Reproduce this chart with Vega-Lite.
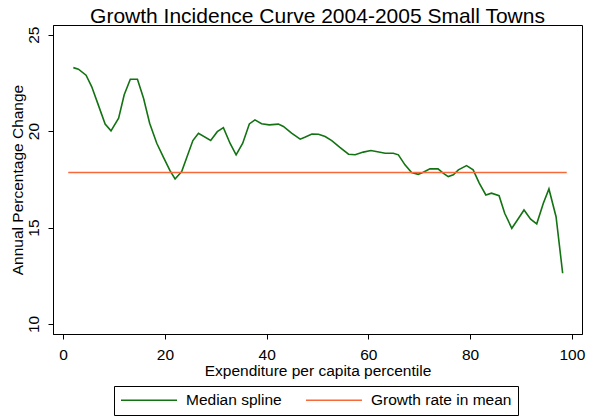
{
  "$schema": "https://vega.github.io/schema/vega-lite/v6.json",
  "width": 529,
  "height": 309,
  "autosize": "none",
  "padding": {"left": 53, "top": 25, "right": 7, "bottom": 82},
  "background": "white",
  "title": {
    "text": "Growth Incidence Curve 2004-2005 Small Towns",
    "font": "Liberation Sans",
    "fontSize": 21,
    "fontWeight": "normal",
    "color": "black",
    "anchor": "middle",
    "offset": -2
  },
  "config": {
    "view": {"stroke": "black", "strokeWidth": 1},
    "axis": {
      "grid": false,
      "domainColor": "black",
      "tickColor": "black",
      "labelColor": "black",
      "titleColor": "black",
      "labelFont": "Liberation Sans",
      "titleFont": "Liberation Sans",
      "labelFontSize": 15.5,
      "titleFontSize": 15.5,
      "titleFontWeight": "normal",
      "tickSize": 5
    }
  },
  "data": {
    "values": [
      {"p": 2, "v": 23.29, "series": "Median spline"},
      {"p": 3.0, "v": 23.21, "series": "Median spline"},
      {"p": 4.5, "v": 22.9, "series": "Median spline"},
      {"p": 5.6, "v": 22.31, "series": "Median spline"},
      {"p": 6.9, "v": 21.36, "series": "Median spline"},
      {"p": 8.25, "v": 20.36, "series": "Median spline"},
      {"p": 9.4, "v": 20.01, "series": "Median spline"},
      {"p": 10.9, "v": 20.67, "series": "Median spline"},
      {"p": 12.0, "v": 21.88, "series": "Median spline"},
      {"p": 13.2, "v": 22.69, "series": "Median spline"},
      {"p": 14.6, "v": 22.69, "series": "Median spline"},
      {"p": 15.8, "v": 21.7, "series": "Median spline"},
      {"p": 17.0, "v": 20.41, "series": "Median spline"},
      {"p": 18.4, "v": 19.37, "series": "Median spline"},
      {"p": 19.7, "v": 18.65, "series": "Median spline"},
      {"p": 21.0, "v": 17.95, "series": "Median spline"},
      {"p": 22.0, "v": 17.52, "series": "Median spline"},
      {"p": 23.3, "v": 17.9, "series": "Median spline"},
      {"p": 25.5, "v": 19.51, "series": "Median spline"},
      {"p": 26.6, "v": 19.89, "series": "Median spline"},
      {"p": 29.0, "v": 19.51, "series": "Median spline"},
      {"p": 30.3, "v": 19.97, "series": "Median spline"},
      {"p": 31.5, "v": 20.18, "series": "Median spline"},
      {"p": 32.8, "v": 19.37, "series": "Median spline"},
      {"p": 34.0, "v": 18.77, "series": "Median spline"},
      {"p": 35.3, "v": 19.37, "series": "Median spline"},
      {"p": 36.6, "v": 20.37, "series": "Median spline"},
      {"p": 37.7, "v": 20.58, "series": "Median spline"},
      {"p": 39.0, "v": 20.38, "series": "Median spline"},
      {"p": 40.5, "v": 20.32, "series": "Median spline"},
      {"p": 42.3, "v": 20.36, "series": "Median spline"},
      {"p": 43.3, "v": 20.24, "series": "Median spline"},
      {"p": 44.9, "v": 19.89, "series": "Median spline"},
      {"p": 46.6, "v": 19.58, "series": "Median spline"},
      {"p": 47.5, "v": 19.68, "series": "Median spline"},
      {"p": 48.9, "v": 19.85, "series": "Median spline"},
      {"p": 50.2, "v": 19.84, "series": "Median spline"},
      {"p": 51.5, "v": 19.72, "series": "Median spline"},
      {"p": 52.8, "v": 19.51, "series": "Median spline"},
      {"p": 54.4, "v": 19.15, "series": "Median spline"},
      {"p": 56.1, "v": 18.8, "series": "Median spline"},
      {"p": 57.4, "v": 18.77, "series": "Median spline"},
      {"p": 59.0, "v": 18.91, "series": "Median spline"},
      {"p": 60.5, "v": 18.99, "series": "Median spline"},
      {"p": 62.3, "v": 18.9, "series": "Median spline"},
      {"p": 63.3, "v": 18.85, "series": "Median spline"},
      {"p": 64.9, "v": 18.85, "series": "Median spline"},
      {"p": 65.9, "v": 18.77, "series": "Median spline"},
      {"p": 67.2, "v": 18.25, "series": "Median spline"},
      {"p": 68.5, "v": 17.85, "series": "Median spline"},
      {"p": 69.8, "v": 17.76, "series": "Median spline"},
      {"p": 70.8, "v": 17.87, "series": "Median spline"},
      {"p": 72.1, "v": 18.04, "series": "Median spline"},
      {"p": 73.7, "v": 18.04, "series": "Median spline"},
      {"p": 74.7, "v": 17.82, "series": "Median spline"},
      {"p": 75.7, "v": 17.64, "series": "Median spline"},
      {"p": 76.7, "v": 17.73, "series": "Median spline"},
      {"p": 77.7, "v": 17.99, "series": "Median spline"},
      {"p": 79.3, "v": 18.21, "series": "Median spline"},
      {"p": 80.6, "v": 17.99, "series": "Median spline"},
      {"p": 81.8, "v": 17.3, "series": "Median spline"},
      {"p": 83.1, "v": 16.69, "series": "Median spline"},
      {"p": 84.2, "v": 16.78, "series": "Median spline"},
      {"p": 85.7, "v": 16.65, "series": "Median spline"},
      {"p": 86.8, "v": 15.74, "series": "Median spline"},
      {"p": 88.2, "v": 14.96, "series": "Median spline"},
      {"p": 89.3, "v": 15.39, "series": "Median spline"},
      {"p": 90.6, "v": 15.91, "series": "Median spline"},
      {"p": 91.9, "v": 15.43, "series": "Median spline"},
      {"p": 93.1, "v": 15.19, "series": "Median spline"},
      {"p": 94.4, "v": 16.26, "series": "Median spline"},
      {"p": 95.5, "v": 17.0, "series": "Median spline"},
      {"p": 96.9, "v": 15.56, "series": "Median spline"},
      {"p": 98.2, "v": 12.63, "series": "Median spline"},
      {"p": 1, "v": 17.85, "series": "Growth rate in mean"},
      {"p": 99, "v": 17.85, "series": "Growth rate in mean"}
    ]
  },
  "mark": {"type": "line", "strokeWidth": 1.6},
  "encoding": {
    "x": {
      "field": "p",
      "type": "quantitative",
      "scale": {"domain": [-2, 102], "nice": false, "zero": false},
      "axis": {
        "values": [0, 20, 40, 60, 80, 100],
        "title": "Expenditure per capita percentile",
        "labelPadding": 8,
        "titlePadding": 1
      }
    },
    "y": {
      "field": "v",
      "type": "quantitative",
      "scale": {"domain": [9.48, 25.5], "nice": false, "zero": false},
      "axis": {
        "values": [10, 15, 20, 25],
        "title": "Annual Percentage Change",
        "labelAngle": 270,
        "labelAlign": "center",
        "labelBaseline": "bottom",
        "labelPadding": 7,
        "titlePadding": 1
      }
    },
    "color": {
      "field": "series",
      "type": "nominal",
      "sort": ["Median spline", "Growth rate in mean"],
      "scale": {
        "domain": ["Median spline", "Growth rate in mean"],
        "range": ["#137313", "#f8693a"]
      },
      "legend": {
        "title": null,
        "orient": "none",
        "legendX": 61,
        "legendY": 361,
        "direction": "horizontal",
        "symbolType": "M-1,0H7",
        "symbolSize": 196,
        "symbolStrokeWidth": 1.6,
        "labelFont": "Liberation Sans",
        "labelFontSize": 15.5,
        "labelColor": "black",
        "labelOffset": 50,
        "columnPadding": 20,
        "strokeColor": "black",
        "padding": 6
      }
    }
  }
}
